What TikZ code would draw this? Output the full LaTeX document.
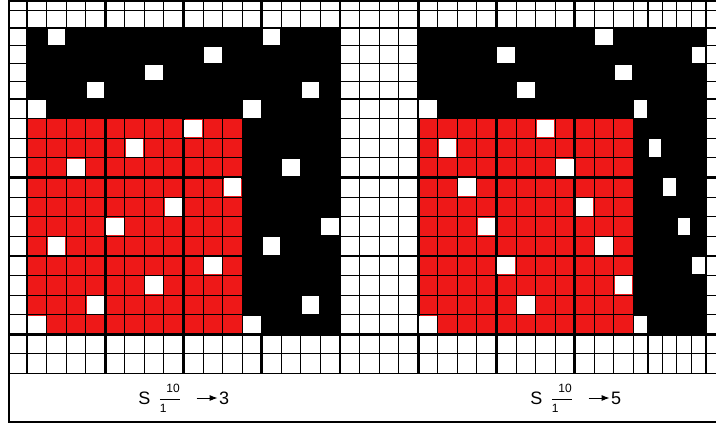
\documentclass[tikz,border=0pt]{standalone}
\usepackage{amsmath}
\usepackage{fontspec}
\setmainfont{Liberation Sans}
\usepackage{tikz}
\usetikzlibrary{arrows.meta, calc, positioning}
\usepackage{xcolor}
\definecolor{satinred}{RGB}{238,24,24}

\begin{document}
\begin{tikzpicture}[
    x=0.5pt, y=-0.5pt,
    node distance=18pt,
    declare function={
        colx(\p)=(\p<31.5)*(27+19.56*\p)+(\p>=31.5)*(633.4+14.5*(\p-31));
        rowy(\q)=(\q<4.5)*(28+17.75*\q)+(\q>=4.5)*(99+19.6*(\q-4));
    },
    finegrid/.style={black, line width=0.45pt},
    boldgrid/.style={black, line width=1.3pt},
    satinpoint/.style={fill=white},
    notation/.style={inner sep=0pt, font=\fontsize{9}{9}\selectfont},
    arrow/.style={-{Latex[length=4pt,width=3pt]}, line width=0.5pt, shorten <=7pt, shorten >=0.5pt}
]
    % 纸面
    \useasboundingbox (0,0) rectangle (716,424);
    \clip (0,0) rectangle (716,424);
    \fill[white] (0,0) rectangle (716,424);

    % 黑底与红色区域
    \foreach \off in {0,20} {
        \fill[black] ({colx(\off)},{rowy(0)}) rectangle ({colx(\off+16)},{rowy(16)});
        \fill[satinred] ({colx(\off)},{rowy(5)}) rectangle ({colx(\off+11)},{rowy(16)});
    }

    % 网格
    \foreach \col in {0,...,37}
        \draw[finegrid] ({colx(\col)},0) -- ({colx(\col)},{rowy(18)});
    \foreach \row in {-1,...,18}
        \draw[finegrid] (9,{rowy(\row)}) -- (716,{rowy(\row)});
    \foreach \col in {0,4,...,36}
        \draw[boldgrid] ({colx(\col)},0) -- ({colx(\col)},{rowy(18)});
    \foreach \row in {0,4,...,16}
        \draw[boldgrid] (9,{rowy(\row)}) -- (716,{rowy(\row)});

    % 组织点
    \foreach \off/\shift in {0/3, 20/5}
        \foreach \row in {0,...,15} {
            \pgfmathtruncatemacro\first{mod(\shift*(15-\row),11)}
            \fill[satinpoint] ({colx(\off+\first)+1},{rowy(\row)+1}) rectangle ({colx(\off+\first+1)-1},{rowy(\row+1)-1});
            \ifnum\first<5
                \fill[satinpoint] ({colx(\off+\first+11)+1},{rowy(\row)+1}) rectangle ({colx(\off+\first+12)-1},{rowy(\row+1)-1});
            \fi
        }

    % 边框
    \draw[line width=1pt] (9,1) rectangle (760,422);

    % 标注
    \node[notation, anchor=west] (satinA) at (138,398) {S\kern3.5pt\raisebox{1.5pt}{\fontsize{6}{6}\selectfont$\genfrac{}{}{0.25pt}{0}{\hphantom{\mbox{1}}\mbox{10}}{\mbox{1}\hphantom{\mbox{10}}}$}};
    \node[notation, right=of satinA] (stepA) {3};
    \node[notation, anchor=west] (satinB) at (530,398) {S\kern3.5pt\raisebox{1.5pt}{\fontsize{6}{6}\selectfont$\genfrac{}{}{0.25pt}{0}{\hphantom{\mbox{1}}\mbox{10}}{\mbox{1}\hphantom{\mbox{10}}}$}};
    \node[notation, right=of satinB] (stepB) {5};
    \draw[arrow] (satinA) -- (stepA);
    \draw[arrow] (satinB) -- (stepB);
\end{tikzpicture}
\end{document}
